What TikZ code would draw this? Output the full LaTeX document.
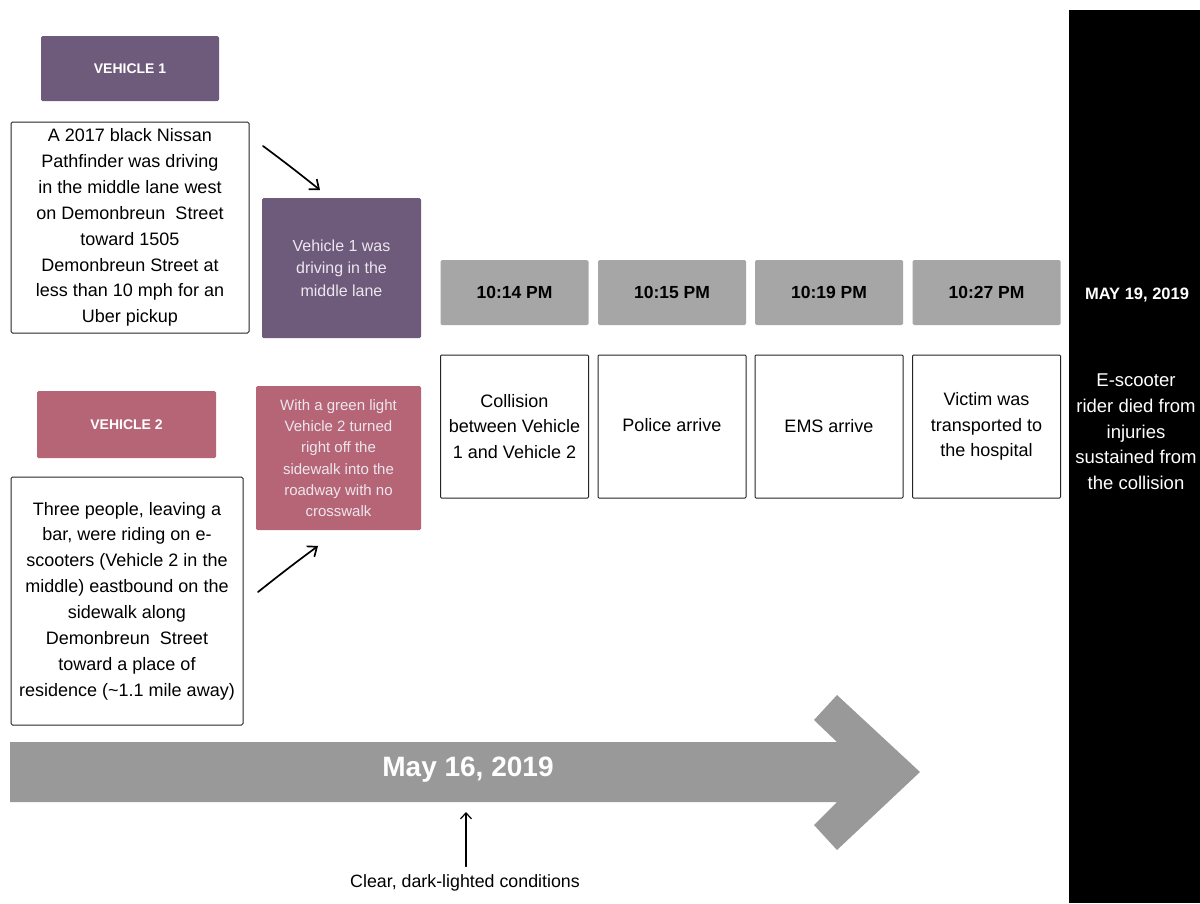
\documentclass[tikz,border=0pt]{standalone}
\usepackage{fontspec}
\setmainfont{Liberation Sans}
\usetikzlibrary{arrows.meta}
\definecolor{vpurple}{HTML}{6E5A7B}
\definecolor{vpink}{HTML}{B56576}
\definecolor{tgrey}{HTML}{A6A6A6}
\definecolor{agrey}{HTML}{999999}
\definecolor{lighttxt}{HTML}{EDE6EE}
\tikzset{
  hdr/.style={fill=#1, draw=none, rounded corners=1.5pt, text=white, font=\bfseries\fontsize{14}{16}\selectfont, inner sep=0pt},
  descbox/.style={draw=black!85, line width=1pt, rounded corners=1.5pt, fill=white, align=center, inner sep=0pt, font=\fontsize{18}{25.9}\selectfont},
  colbox/.style={fill=#1, draw=none, rounded corners=1.5pt, text=lighttxt, align=center, inner sep=0pt},
  timebox/.style={fill=tgrey, draw=none, rounded corners=1.5pt, minimum width=148pt, minimum height=65pt, inner sep=0pt, font=\bfseries\fontsize{17.5}{20}\selectfont},
  eventbox/.style={draw=black!85, line width=1pt, rounded corners=1pt, minimum width=148pt, minimum height=143pt, inner sep=0pt, align=center, font=\fontsize{18}{25.8}\selectfont},
  conn/.style={-{Straight Barb[length=8pt,width=13pt]}, line width=1.7pt, line cap=round}
}
\begin{document}
\begin{tikzpicture}[x=1pt,y=-1pt]
\useasboundingbox (0,0) rectangle (1200,903);
\fill[white] (0,0) rectangle (1200,903);

% Vehicle 1
\node[hdr=vpurple, minimum width=178pt, minimum height=65pt] (h1) at (130,68.5) {VEHICLE 1};
\node[descbox, minimum width=238pt, minimum height=211pt] (d1) at (130,227.5) {A 2017 black Nissan\\Pathfinder was driving\\in the middle lane west\\on Demonbreun\ \ Street\\toward 1505\\Demonbreun Street at\\less than 10 mph for an\\Uber pickup};
\node[colbox=vpurple, minimum width=159pt, minimum height=140pt, font=\fontsize{16}{22.5}\selectfont] (v1) at (341.5,268) {Vehicle 1 was\\driving in the\\middle lane};

% Vehicle 2
\node[hdr=vpink, minimum width=179pt, minimum height=67pt] (h2) at (126.5,424.5) {VEHICLE 2};
\node[colbox=vpink, minimum width=165pt, minimum height=144pt, font=\fontsize{15}{21.3}\selectfont] (v2) at (338.5,458) {With a green light\\Vehicle 2 turned\\right off the\\sidewalk into the\\roadway with no\\crosswalk};
\node[descbox, minimum width=232pt, minimum height=248pt] (d2) at (127,601) {Three people, leaving a\\bar, were riding on e-\\scooters (Vehicle 2 in the\\middle) eastbound on the\\sidewalk along\\Demonbreun\ \ Street\\toward a place of\\residence (\textasciitilde1.1 mile away)};

% connectors
\coordinate (a1s) at (263,146);
\coordinate (a1e) at (320,190);
\coordinate (a2s) at (258,592);
\coordinate (a2e) at (318,546);
\draw[conn] (a1s) to[bend left=1] (a1e);
\draw[conn] (a2s) to[bend left=1] (a2e);

% time boxes
\node[timebox] (t1) at (514.5,292.5) {10:14 PM};
\node[timebox] (t2) at (672,292.5) {10:15 PM};
\node[timebox] (t3) at (829,292.5) {10:19 PM};
\node[timebox] (t4) at (986.5,292.5) {10:27 PM};

% event boxes
\node[eventbox] (e1) at (514.5,426.5) {Collision\\between Vehicle\\1 and Vehicle 2};
\node[eventbox] (e2) at (672,426.5) {\raisebox{4pt}{Police arrive}};
\node[eventbox] (e3) at (829,426.5) {EMS arrive};
\node[eventbox] (e4) at (986.5,426.5) {Victim was\\transported to\\the hospital};

% black panel
\fill[black] (1069,10) rectangle (1200,903);
\node[text=white, font=\bfseries\fontsize{16.5}{18}\selectfont, inner sep=0pt] (m19) at (1137,295) {MAY 19, 2019};
\node[text=white, align=center, font=\fontsize{18.5}{25.7}\selectfont, inner sep=0pt] (died) at (1136,432) {E-scooter\\rider died from\\injuries\\sustained from\\the collision};

% big timeline arrow
\fill[agrey] (10,742) -- (837,742) -- (814,720) -- (837,695) -- (920,772) -- (837,850) -- (814,825) -- (837,802) -- (10,802) -- cycle;
\node[text=white, font=\bfseries\fontsize{28}{32}\selectfont, inner sep=0pt] (may16) at (468,770) {May 16, 2019};

% conditions
\node[font=\fontsize{17.8}{20}\selectfont, inner sep=0pt] (cond) at (465,883) {Clear, dark-lighted conditions};
\coordinate (c1) at (466,812);
\draw[conn, -{Straight Barb[length=6pt,width=11pt]}, line width=1.2pt] (cond.north -| c1) ++(0,-8) -- (c1);
\end{tikzpicture}
\end{document}
